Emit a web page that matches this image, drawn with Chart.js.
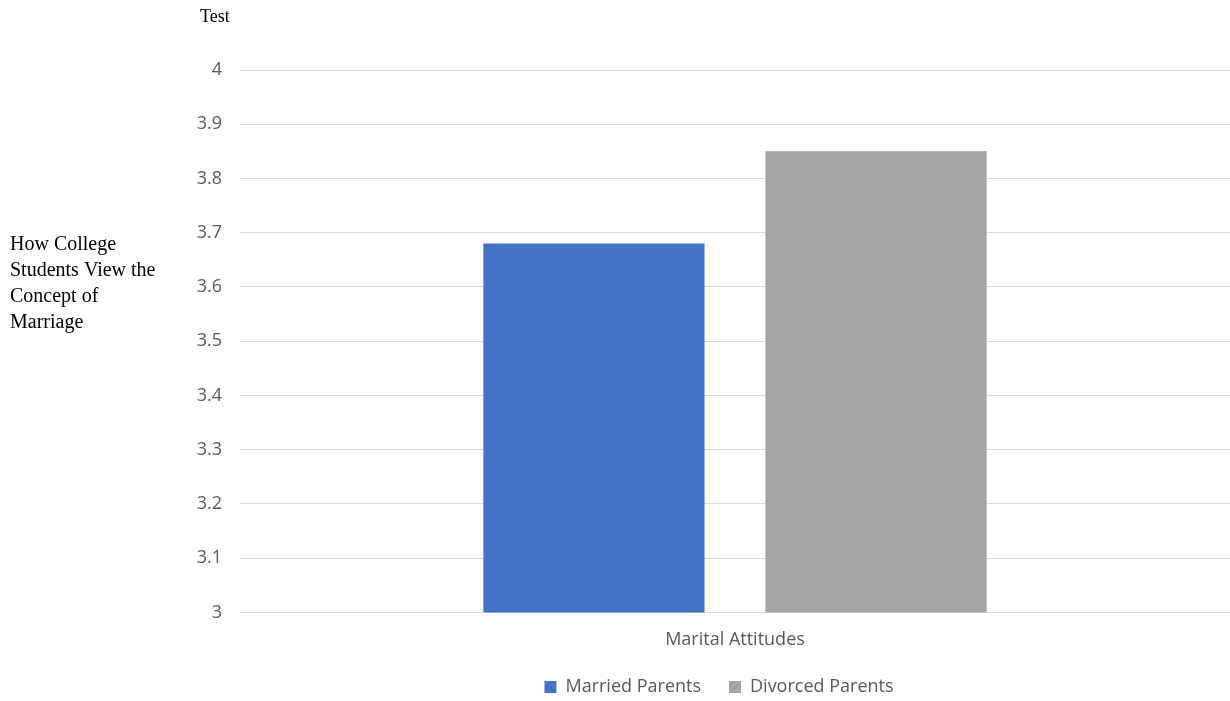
<!DOCTYPE html>
<html>
<head>
<meta charset="utf-8">
<script src="https://cdn.jsdelivr.net/npm/chart.js@4/dist/chart.umd.min.js"></script>
<style>
    html, body { margin: 0; padding: 0; background: #fff; }
    #wrap { position: relative; width: 1230px; height: 701px; }
</style>
</head>
<body>
<div id="wrap"><canvas id="chart"></canvas></div>
<script>
// Chart data
const categories = ['Marital Attitudes'];
const seriesNames = ['Married Parents', 'Divorced Parents'];
const marriedValues = [3.68];
const divorcedValues = [3.85];
const seriesColors = ['#4472C4', '#A5A5A5'];

const chartTitle = 'Test';
const yTitleLines = ['How College', 'Students View the', 'Concept of', 'Marriage'];

// Draws the small title and the horizontal y-axis caption
const captionPlugin = {
    id: 'caption',
    afterLayout(chart) {
        // legend sits under the plot, a bit right of the canvas centre
        chart.legend.left += 104;
        chart.legend.right += 104;
        chart.legend.top -= 18;
        chart.legend.bottom -= 18;
    },
    afterDraw(chart) {
        const ctx = chart.ctx;
        ctx.save();
        ctx.fillStyle = '#000';
        ctx.textBaseline = 'middle';
        ctx.textAlign = 'left';
        ctx.font = '18px "Liberation Serif", "Times New Roman", serif';
        ctx.fillText(chartTitle, 200, 17);
        ctx.font = '20px "Liberation Serif", "Times New Roman", serif';
        yTitleLines.forEach((line, i) => {
            ctx.fillText(line, 10, 245 + i * 26);
        });
        ctx.restore();
    }
};

const tickFont = { family: '"Open Sans", sans-serif', size: 18 };

const ctx = document.getElementById('chart').getContext('2d');

const chart = new Chart(ctx, {
    type: 'bar',
    data: {
        labels: categories,
        datasets: [
            {
                label: seriesNames[0],
                data: marriedValues,
                backgroundColor: seriesColors[0]
            },
            {
                label: seriesNames[1],
                data: divorcedValues,
                backgroundColor: seriesColors[1]
            }
        ]
    },
    options: {
        responsive: true,
        maintainAspectRatio: false,
        animation: false,
        categoryPercentage: 0.57,
        barPercentage: 0.784,
        layout: {
            padding: { top: 70, right: 0, left: 0, bottom: -23 }
        },
        plugins: {
            title: { display: false },
            tooltip: { enabled: false },
            legend: {
                display: true,
                position: 'bottom',
                labels: {
                    boxWidth: 12,
                    boxHeight: 12,
                    padding: 28,
                    color: '#595959',
                    font: tickFont
                }
            }
        },
        scales: {
            y: {
                min: 3,
                max: 4,
                afterFit(scale) { scale.width = 240; },
                ticks: {
                    stepSize: 0.1,
                    padding: 18,
                    color: '#595959',
                    font: tickFont,
                    callback: (v) => Math.round(v * 10) / 10
                },
                grid: { color: '#d9d9d9', drawTicks: false },
                border: { display: false }
            },
            x: {
                ticks: {
                    padding: 17,
                    color: '#595959',
                    font: tickFont
                },
                grid: { display: false, drawTicks: false },
                border: { display: false }
            }
        }
    },
    plugins: [captionPlugin]
});
</script>
</body>
</html>
